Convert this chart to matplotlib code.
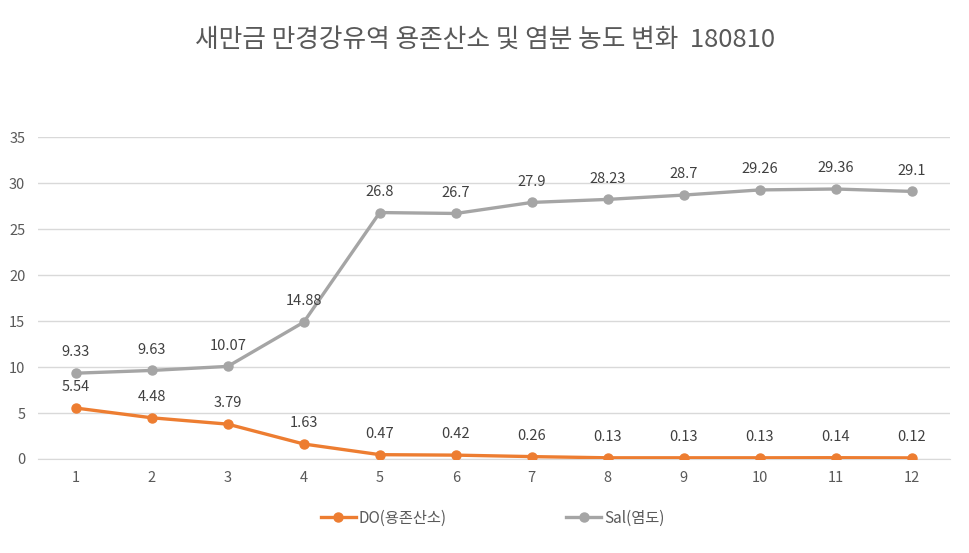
import matplotlib
matplotlib.use("Agg")
import matplotlib.pyplot as plt

plt.rcParams['font.family'] = ['Noto Sans CJK KR', 'DejaVu Sans']

stations = [1, 2, 3, 4, 5, 6, 7, 8, 9, 10, 11, 12]
do_vals = [5.54, 4.48, 3.79, 1.63, 0.47, 0.42, 0.26, 0.13, 0.13, 0.13, 0.14, 0.12]
sal_vals = [9.33, 9.63, 10.07, 14.88, 26.8, 26.7, 27.9, 28.23, 28.7, 29.26, 29.36, 29.1]
y_ticks = [0, 5, 10, 15, 20, 25, 30, 35]

fig = plt.figure(figsize=(9.7, 5.53), dpi=100)
ax = fig.add_axes([0.039, 0.170, 0.940, 0.582])

orange = '#ED7D31'
gray = '#A5A5A5'
txt = '#404040'

ax.plot(stations, do_vals, color=orange, lw=2.4, marker='o', ms=6.5,
        label='DO(용존산소)', zorder=3)
ax.plot(stations, sal_vals, color=gray, lw=2.4, marker='o', ms=6.5,
        label='Sal(염도)', zorder=3)

for x, v in zip(stations, do_vals):
    ax.annotate(f'{v:g}', (x, v), xytext=(0, 10), textcoords='offset points',
                ha='center', va='bottom', fontsize=10.5, color=txt)
for x, v in zip(stations, sal_vals):
    ax.annotate(f'{v:g}', (x, v), xytext=(0, 10), textcoords='offset points',
                ha='center', va='bottom', fontsize=10.5, color=txt)

ax.set_xlim(0.5, 12.5)
ax.set_ylim(0, 35)
ax.set_xticks(stations)
ax.set_yticks(y_ticks)
ax.grid(axis='y', color='#D9D9D9', lw=1)
ax.set_axisbelow(True)
for s in ['top', 'right', 'left']:
    ax.spines[s].set_visible(False)
ax.spines['bottom'].set_color('#D9D9D9')
ax.tick_params(axis='both', length=0, labelsize=10.5, labelcolor='#595959', pad=9)

fig.suptitle('새만금 만경강유역 용존산소 및 염분 농도 변화  180810', y=0.952,
             fontsize=18.5, color='#595959')

fig.legend(loc='center', bbox_to_anchor=(0.508, 0.063), ncol=2, frameon=False,
           fontsize=11, labelcolor='#595959', columnspacing=7.8, handlelength=2.3,
           handletextpad=0.2)

fig.savefig('out.png', dpi=100)
